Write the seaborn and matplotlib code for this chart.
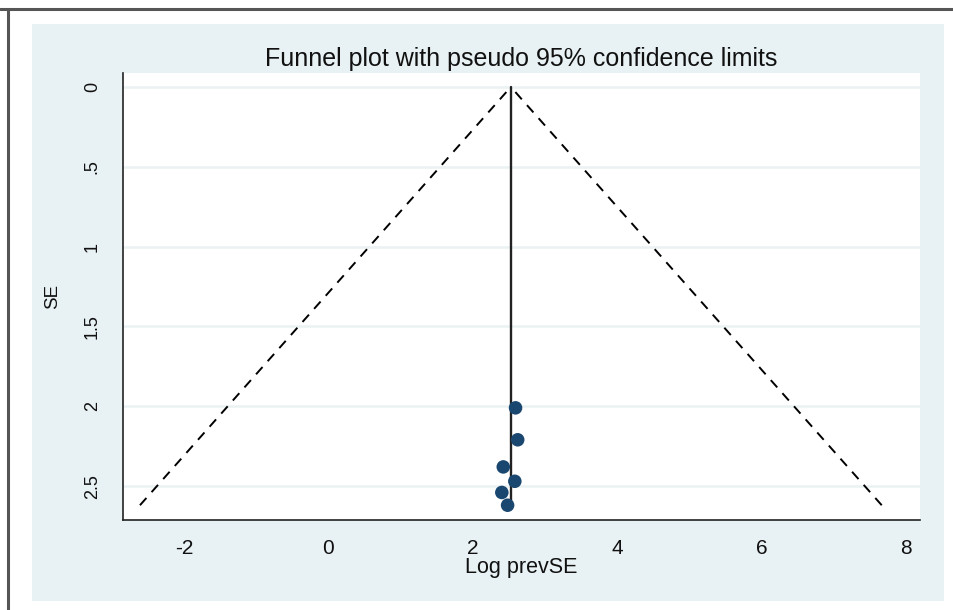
import numpy as np
import pandas as pd
import matplotlib
matplotlib.use("Agg")
import matplotlib.pyplot as plt
import seaborn as sns
from matplotlib.patches import Rectangle
from matplotlib.lines import Line2D

# Study estimates
log_prev = [2.59, 2.62, 2.42, 2.58, 2.40, 2.48]
se = [2.01, 2.21, 2.38, 2.47, 2.54, 2.62]
pooled = 2.525

x_ticks = [-2, 0, 2, 4, 6, 8]
y_ticks = [0, 0.5, 1, 1.5, 2, 2.5]
y_tick_labels = ["0", ".5", "1", "1.5", "2", "2.5"]

df = pd.DataFrame({"Log prevSE": log_prev, "SE": se})

sns.set_theme(style="white")
plt.rcParams["font.family"] = ["Liberation Sans", "DejaVu Sans"]

fig = plt.figure(figsize=(9.54, 6.10), dpi=100)
fig.patch.set_facecolor("white")

# graph region background (Stata style)
fig.patches.append(Rectangle((32 / 954, 1 - 601 / 610), 912 / 954, 577 / 610,
                             transform=fig.transFigure, facecolor="#e8f1f3",
                             edgecolor="none", zorder=-5))
# outer border (top and left edges of the frame)
fig.lines.append(Line2D([0, 1], [1 - 9 / 610, 1 - 9 / 610], transform=fig.transFigure,
                        color="#555555", lw=2.2))
fig.lines.append(Line2D([8 / 954, 8 / 954], [0, 1 - 9 / 610], transform=fig.transFigure,
                        color="#555555", lw=2.2))

ax = fig.add_axes([123 / 954, 1 - 520 / 610, 797 / 954, 447 / 610])
ax.set_zorder(2)
ax.set_facecolor("white")

# pseudo 95% confidence limits (drawn from the bottom up so the ends are dashes)
max_se = max(se)
se_line = np.array([max_se, 0])
ax.plot(pooled - 1.96 * se_line, se_line, color="black", lw=1.4, ls=(0, (5, 4)))
ax.plot(pooled + 1.96 * se_line, se_line, color="black", lw=1.4, ls=(0, (5, 4)))
ax.plot([pooled, pooled], [0, max_se], color="#222222", lw=1.7)

sns.scatterplot(data=df, x="Log prevSE", y="SE", ax=ax, color="#1a476f",
                s=95, edgecolor="none", zorder=3)

ax.set_xlim(-2.845, 8.19)
ax.set_ylim(2.7125, -0.0875)
ax.set_xticks(x_ticks)
ax.set_xticklabels([str(t) for t in x_ticks])
ax.set_yticks(y_ticks)
ax.set_yticklabels(y_tick_labels, rotation=90, va="center")

for y in y_ticks:
    ax.axhline(y, color="#eaf2f3", lw=1.8, zorder=0)

for side in ["top", "right"]:
    ax.spines[side].set_visible(False)
for side in ["left", "bottom"]:
    ax.spines[side].set_color("#222222")
    ax.spines[side].set_linewidth(1.2)

ax.tick_params(axis="both", which="both", length=6, width=1, color="#444444",
               labelcolor="#111111", direction="out")
ax.tick_params(axis="x", labelsize=15, pad=8)
ax.tick_params(axis="y", labelsize=13, pad=10)

ax.set_xlabel("Log prevSE", fontsize=15.5, color="#111111", labelpad=-1)
ax.set_ylabel("SE", fontsize=13.5, color="#111111", labelpad=16)
ax.set_title("Funnel plot with pseudo 95% confidence limits", fontsize=18,
             color="#111111", pad=5)

fig.savefig("out.png", dpi=100)
